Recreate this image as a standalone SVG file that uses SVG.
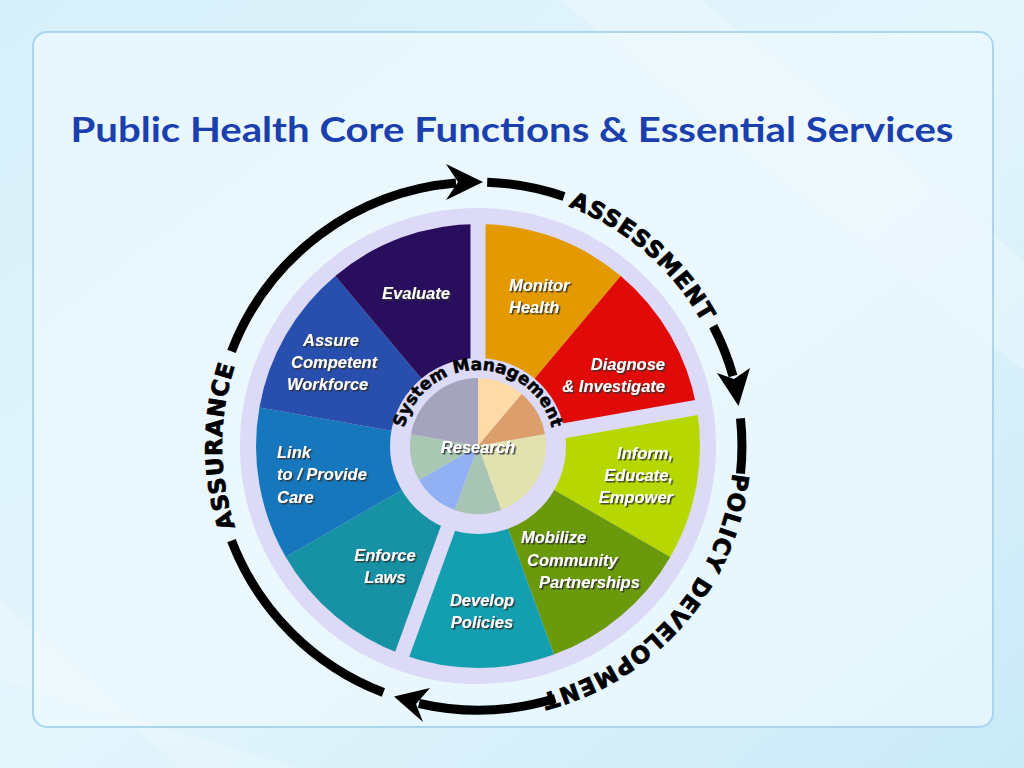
<svg xmlns="http://www.w3.org/2000/svg" width="1024" height="768" viewBox="0 0 1024 768">
<defs>
<linearGradient id="bg" x1="0" y1="0" x2="1" y2="1">
<stop offset="0" stop-color="#d6f0fa"/><stop offset="0.5" stop-color="#e4f5fc"/><stop offset="1" stop-color="#c9eaf8"/>
</linearGradient>
<filter id="sh" x="-20%" y="-20%" width="140%" height="140%">
<feDropShadow dx="1.5" dy="1.5" stdDeviation="0.6" flood-color="#333" flood-opacity="0.9"/>
</filter>
<style>
.lbl{font-family:"Liberation Sans",Arial,sans-serif;font-weight:bold;font-style:italic;font-size:16.5px;fill:#fff;filter:url(#sh)}
.ring{font-family:"DejaVu Sans",sans-serif;font-weight:bold;font-size:23px;fill:#000;letter-spacing:1px;stroke:#000;stroke-width:0.8px}
.arc{fill:none;stroke:#000;stroke-width:9}
</style>
<path id="pAss" d="M544.3,198.7 A256,256 0 0 1 713.6,346.0"/>
<path id="pPol" d="M733.0,468.3 A256,256 0 0 1 535.6,695.4"/>
<path id="pAsu" d="M246.0,554.2 A256,256 0 0 1 246.0,337.8"/>
<path id="pSys" d="M402.3,439.4 A76,76 0 0 1 553.7,439.4"/>
</defs>
<rect width="1024" height="768" fill="url(#bg)"/>
<polygon points="560,0 700,0 1024,260 1024,370" fill="#ffffff" opacity="0.25"/>
<polygon points="0,600 0,680 300,768 180,768" fill="#ffffff" opacity="0.2"/>
<rect x="33" y="32" width="960" height="695" rx="14" fill="#eef9fd" fill-opacity="0.7" stroke="#a9d6ee" stroke-width="2"/>
<text x="512" y="142" text-anchor="middle" font-family="Lato,'Open Sans',sans-serif" font-weight="bold" font-size="35" fill="#1c3fae" textLength="883" lengthAdjust="spacingAndGlyphs">Public Health Core Functions &amp; Essential Services</text>

<g id="wheel">
<circle cx="478" cy="446" r="238" fill="#dcdaf6"/>
<g id="monitor"><path d="M478,446 L478,224 A222,222 0 0 1 620.7,275.9 Z" fill="#e29a00"/><text class="lbl" x="509" y="291">Monitor</text><text class="lbl" x="509" y="313">Health</text></g>
<g id="diagnose"><path d="M478,446 L620.7,275.9 A222,222 0 0 1 696.6,407.5 Z" fill="#e00a08"/><text class="lbl" x="665" y="370" text-anchor="end">Diagnose</text><text class="lbl" x="665" y="392" text-anchor="end">&amp; Investigate</text></g>
<g id="inform"><path d="M478,446 L696.6,407.5 A222,222 0 0 1 670.3,557.0 Z" fill="#b6d800"/><text class="lbl" x="673" y="459" text-anchor="end">Inform,</text><text class="lbl" x="673" y="481" text-anchor="end">Educate,</text><text class="lbl" x="673" y="503" text-anchor="end">Empower</text></g>
<g id="mobilize"><path d="M478,446 L670.3,557.0 A222,222 0 0 1 553.9,654.6 Z" fill="#6a9a0c"/><text class="lbl" x="521" y="543">Mobilize</text><text class="lbl" x="527" y="566">Community</text><text class="lbl" x="539" y="588">Partnerships</text></g>
<g id="develop"><path d="M478,446 L553.9,654.6 A222,222 0 0 1 402.1,654.6 Z" fill="#139fb0"/><text class="lbl" x="482" y="606" text-anchor="middle">Develop</text><text class="lbl" x="482" y="628" text-anchor="middle">Policies</text></g>
<g id="enforce"><path d="M478,446 L402.1,654.6 A222,222 0 0 1 285.7,557.0 Z" fill="#1792a4"/><text class="lbl" x="385" y="561" text-anchor="middle">Enforce</text><text class="lbl" x="385" y="583" text-anchor="middle">Laws</text></g>
<g id="link"><path d="M478,446 L285.7,557.0 A222,222 0 0 1 259.4,407.5 Z" fill="#1677bd"/><text class="lbl" x="277" y="458">Link</text><text class="lbl" x="277" y="480">to / Provide</text><text class="lbl" x="277" y="503">Care</text></g>
<g id="assure"><path d="M478,446 L259.4,407.5 A222,222 0 0 1 335.3,275.9 Z" fill="#284fae"/><text class="lbl" x="303" y="346">Assure</text><text class="lbl" x="291" y="368">Competent</text><text class="lbl" x="287" y="390">Workforce</text></g>
<g id="evaluate"><path d="M478,446 L335.3,275.9 A222,222 0 0 1 478,224 Z" fill="#2a0e5e"/><text class="lbl" x="416" y="299" text-anchor="middle">Evaluate</text></g>
<g stroke="#dcdaf6" stroke-width="15">
<line x1="478" y1="446" x2="478" y2="215"/>
<line x1="478" y1="446" x2="705" y2="406"/>
<line x1="478" y1="446" x2="399" y2="663"/>
</g>
<g id="hub">
<circle cx="478" cy="446" r="88" fill="#dcdaf6"/>
<path d="M478,446 L478,378 A68,68 0 0 1 521.7,393.9 Z" fill="#fddba6"/>
<path d="M478,446 L521.7,393.9 A68,68 0 0 1 545.0,434.2 Z" fill="#dc9f6c"/>
<path d="M478,446 L545.0,434.2 A68,68 0 0 1 501.3,509.9 Z" fill="#e2e2b0"/>
<path d="M478,446 L501.3,509.9 A68,68 0 0 1 454.7,509.9 Z" fill="#a8c4b4"/>
<path d="M478,446 L454.7,509.9 A68,68 0 0 1 419.1,480 Z" fill="#92b0f4"/>
<path d="M478,446 L419.1,480 A68,68 0 0 1 411.0,434.2 Z" fill="#a8c8b4"/>
<path d="M478,446 L411.0,434.2 A68,68 0 0 1 478,378 Z" fill="#a4a4bc"/>
<text font-family="DejaVu Sans,sans-serif" font-weight="bold" font-size="17" fill="#000" stroke="#000" stroke-width="0.5"><textPath href="#pSys" startOffset="50%" text-anchor="middle">System Management</textPath></text>
<text class="lbl" x="478" y="453" text-anchor="middle" font-size="16">Research</text>
</g>
</g>

<g id="connectors">
<path class="arc" d="M231.5,351.4 A264,264 0 0 1 456,183"/>
<polygon points="483,182 446,164 458,182 446,200"/>
<path class="arc" d="M487.2,182.2 A264,264 0 0 1 564.0,196.4"/>
<path class="arc" d="M713.2,326.1 A264,264 0 0 1 733,376"/>
<polygon points="738.5,406 750,368 734,379 717,373"/>
<path class="arc" d="M740.5,418.4 A264,264 0 0 1 740.5,473.6"/>
<path class="arc" d="M555.2,698.5 A264,264 0 0 1 419,703.5"/>
<polygon points="394,696.5 430,688 416,704 423,722"/>
<path class="arc" d="M383.4,692.5 A264,264 0 0 1 231.5,540.6"/>
<text class="ring"><textPath href="#pAss" startOffset="50%" text-anchor="middle">ASSESSMENT</textPath></text>
<text class="ring"><textPath href="#pPol" startOffset="50%" text-anchor="middle">POLICY DEVELOPMENT</textPath></text>
<text class="ring"><textPath href="#pAsu" startOffset="50%" text-anchor="middle">ASSURANCE</textPath></text>
</g>
</svg>
